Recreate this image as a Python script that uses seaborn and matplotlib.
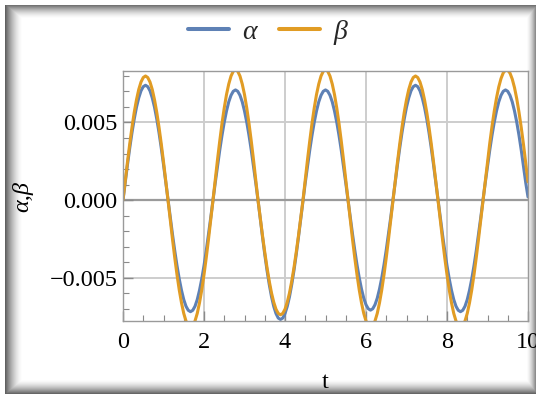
import numpy as np
import pandas as pd
import seaborn as sns
import matplotlib
matplotlib.use("Agg")
import matplotlib.pyplot as plt
from matplotlib.ticker import MultipleLocator

# ---- data -------------------------------------------------------------
t_start, t_end, n_samples = 0.0, 10.0, 181

alpha_vals = [
    0.0, 0.00116, 0.00229, 0.00336, 0.00435, 0.00523, 0.00599, 0.00659, 0.00704, 0.00731,
    0.00740, 0.00731, 0.00704, 0.00659, 0.00599, 0.00523, 0.00435, 0.00336, 0.00229, 0.00116,
    0.0, -0.00113, -0.00222, -0.00327, -0.00423, -0.00509, -0.00582, -0.00642, -0.00685, -0.00711,
    -0.00720, -0.00711, -0.00685, -0.00642, -0.00582, -0.00509, -0.00423, -0.00327, -0.00222, -0.00113,
    0.0, 0.00111, 0.00219, 0.00322, 0.00417, 0.00502, 0.00574, 0.00633, 0.00675, 0.00701,
    0.00710, 0.00701, 0.00675, 0.00633, 0.00574, 0.00502, 0.00417, 0.00322, 0.00219, 0.00111,
    0.0, -0.00120, -0.00238, -0.00350, -0.00453, -0.00544, -0.00623, -0.00686, -0.00732, -0.00761,
    -0.00770, -0.00761, -0.00732, -0.00686, -0.00623, -0.00544, -0.00453, -0.00350, -0.00238, -0.00120,
    0.0, 0.00111, 0.00219, 0.00322, 0.00417, 0.00502, 0.00574, 0.00633, 0.00675, 0.00701,
    0.00710, 0.00701, 0.00675, 0.00633, 0.00574, 0.00502, 0.00417, 0.00322, 0.00219, 0.00111,
    0.0, -0.00111, -0.00219, -0.00322, -0.00417, -0.00502, -0.00574, -0.00633, -0.00675, -0.00701,
    -0.00710, -0.00701, -0.00675, -0.00633, -0.00574, -0.00502, -0.00417, -0.00322, -0.00219, -0.00111,
    0.0, 0.00116, 0.00229, 0.00336, 0.00435, 0.00523, 0.00599, 0.00659, 0.00704, 0.00731,
    0.00740, 0.00731, 0.00704, 0.00659, 0.00599, 0.00523, 0.00435, 0.00336, 0.00229, 0.00116,
    0.0, -0.00113, -0.00222, -0.00327, -0.00423, -0.00509, -0.00582, -0.00642, -0.00685, -0.00711,
    -0.00720, -0.00711, -0.00685, -0.00642, -0.00582, -0.00509, -0.00423, -0.00327, -0.00222, -0.00113,
    0.0, 0.00111, 0.00219, 0.00322, 0.00417, 0.00502, 0.00574, 0.00633, 0.00675, 0.00701,
    0.00710, 0.00701, 0.00675, 0.00633, 0.00574, 0.00502, 0.00417, 0.00322, 0.00219, 0.00111,
    0.0002,
]

beta_vals = [
    0.0, 0.00125, 0.00247, 0.00363, 0.00470, 0.00566, 0.00647, 0.00713, 0.00761, 0.00790,
    0.00800, 0.00790, 0.00761, 0.00713, 0.00647, 0.00566, 0.00470, 0.00363, 0.00247, 0.00125,
    0.0, -0.00128, -0.00253, -0.00372, -0.00482, -0.00580, -0.00663, -0.00731, -0.00780, -0.00810,
    -0.00820, -0.00810, -0.00780, -0.00731, -0.00663, -0.00580, -0.00482, -0.00372, -0.00253, -0.00128,
    0.0, 0.00131, 0.00260, 0.00381, 0.00494, 0.00594, 0.00680, 0.00748, 0.00799, 0.00830,
    0.00840, 0.00830, 0.00799, 0.00748, 0.00680, 0.00594, 0.00494, 0.00381, 0.00260, 0.00131,
    0.0, -0.00116, -0.00229, -0.00336, -0.00435, -0.00523, -0.00599, -0.00659, -0.00704, -0.00731,
    -0.00740, -0.00731, -0.00704, -0.00659, -0.00599, -0.00523, -0.00435, -0.00336, -0.00229, -0.00116,
    0.0, 0.00131, 0.00260, 0.00381, 0.00494, 0.00594, 0.00680, 0.00748, 0.00799, 0.00830,
    0.00840, 0.00830, 0.00799, 0.00748, 0.00680, 0.00594, 0.00494, 0.00381, 0.00260, 0.00131,
    0.0, -0.00128, -0.00253, -0.00372, -0.00482, -0.00580, -0.00663, -0.00731, -0.00780, -0.00810,
    -0.00820, -0.00810, -0.00780, -0.00731, -0.00663, -0.00580, -0.00482, -0.00372, -0.00253, -0.00128,
    0.0, 0.00125, 0.00247, 0.00363, 0.00470, 0.00566, 0.00647, 0.00713, 0.00761, 0.00790,
    0.00800, 0.00790, 0.00761, 0.00713, 0.00647, 0.00566, 0.00470, 0.00363, 0.00247, 0.00125,
    0.0, -0.00128, -0.00253, -0.00372, -0.00482, -0.00580, -0.00663, -0.00731, -0.00780, -0.00810,
    -0.00820, -0.00810, -0.00780, -0.00731, -0.00663, -0.00580, -0.00482, -0.00372, -0.00253, -0.00128,
    0.0, 0.00126, 0.00248, 0.00366, 0.00475, 0.00573, 0.00658, 0.00729, 0.00783, 0.00820,
    0.00838, 0.00837, 0.00818, 0.00780, 0.00725, 0.00653, 0.00566, 0.00467, 0.00358, 0.00240,
    0.00117,
]

series_names = ["α", "β"]
xticks = [0, 2, 4, 6, 8, 10]
xtick_labels = ["0", "2", "4", "6", "8", "10"]
yticks = [-0.005, 0.0, 0.005]
ytick_labels = ["\u22120.005", "0.000", "0.005"]
x_range = (0, 10)
y_range = (-0.0078, 0.00832)

t_vals = np.linspace(t_start, t_end, n_samples)

df = pd.DataFrame({
    "t": np.concatenate([t_vals, t_vals]),
    "value": alpha_vals + beta_vals,
    "series": [series_names[0]] * n_samples + [series_names[1]] * n_samples,
})

# ---- styling ----------------------------------------------------------
sns.set_theme(style="white")
plt.rcParams["font.family"] = ["Liberation Serif", "DejaVu Serif"]

BLUE = "#5E81B5"
ORANGE = "#E19C24"
W, H = 536, 394

fig = plt.figure(figsize=(W / 100, H / 100), dpi=100)

# soft shaded card behind the plot
yy, xx = np.mgrid[0:H, 0:W].astype(float)


def ramp(dist, width, strength, power=1.6):
    r = np.clip(1.0 - dist / width, 0.0, 1.0)
    return strength * r ** power


dark = np.zeros((H, W))
dark = np.maximum(dark, ramp(xx - 5, 17, 0.62))
dark = np.maximum(dark, ramp(yy - 5, 13, 0.55))
dark = np.maximum(dark, ramp(W - 1 - xx, 9, 0.45))
dark = np.maximum(dark, ramp(H - 1 - yy, 14, 0.6))
dark[(xx < 5) | (yy < 5)] = 0.0
shade = 1.0 - dark
fig.figimage(np.dstack([shade] * 3), xo=0, yo=0, origin="upper", zorder=-1)

ax = fig.add_axes([123 / W, (H - 321) / H, 405 / W, 250 / H])
ax.set_facecolor("none")

sns.lineplot(
    data=df, x="t", y="value", hue="series",
    palette={series_names[0]: BLUE, series_names[1]: ORANGE},
    linewidth=2.2, errorbar=None, legend=False, ax=ax,
)
curve_lines = list(ax.get_lines()[:2])
for ln in curve_lines:
    ln.set_solid_joinstyle("round")

# grid and zero line
for xv in xticks[1:-1]:
    ax.axvline(xv, color="#cdcdcd", lw=1.4, zorder=0)
for yv in yticks:
    if yv == 0:
        ax.axhline(yv, color="#9a9a9a", lw=1.6, zorder=0.5)
    else:
        ax.axhline(yv, color="#cdcdcd", lw=1.4, zorder=0)

ax.set_xlim(*x_range)
ax.set_ylim(*y_range)
ax.set_xticks(xticks)
ax.set_xticklabels(xtick_labels)
ax.set_yticks(yticks)
ax.set_yticklabels(ytick_labels)
ax.xaxis.set_minor_locator(MultipleLocator(0.5))
ax.yaxis.set_minor_locator(MultipleLocator(0.001))
ax.tick_params(which="both", direction="in", bottom=True, left=True,
               top=False, right=False, color="#8a8a8a",
               labelsize=17.5, labelcolor="black")
ax.tick_params(which="major", length=7, width=1.0)
ax.tick_params(which="minor", length=4, width=0.8)
ax.tick_params(axis="y", pad=4)
ax.tick_params(axis="x", pad=8)

for sp in ax.spines.values():
    sp.set_visible(True)
    sp.set_color("#9a9a9a")
    sp.set_linewidth(1.0)

ax.set_xlabel("t", fontsize=17.5, color="black")
ax.xaxis.set_label_coords(0.5, -0.205)
ax.set_ylabel("α,β", fontsize=17.5, fontstyle="italic", color="black")
ax.yaxis.set_label_coords(-0.222, 0.5)

leg = fig.legend(
    curve_lines, series_names, loc="center",
    bbox_to_anchor=(0.5, 1 - 32 / H), ncol=2, frameon=False,
    prop={"family": "Liberation Serif", "style": "italic", "size": 20},
    handlelength=1.45, handletextpad=0.5, columnspacing=0.8,
)
for ln in leg.get_lines():
    ln.set_linewidth(2.9)

fig.savefig("out.png", dpi=100)
